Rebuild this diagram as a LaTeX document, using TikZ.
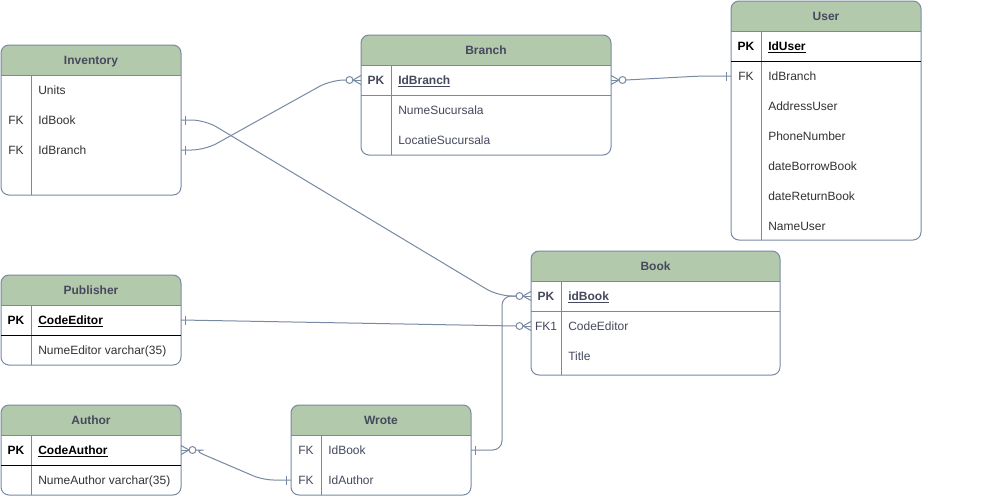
\documentclass[tikz,border=0pt]{standalone}
\usepackage{fontspec}
\setmainfont{Liberation Sans}
\usetikzlibrary{calc}
\definecolor{hdrc}{HTML}{B2C9AB}
\definecolor{bdc}{HTML}{788AA3}
\definecolor{txg}{HTML}{46495D}
\definecolor{txd}{HTML}{333333}
\tikzset{
  bd/.style={draw=bdc, line width=0.75pt},
  blk/.style={draw=black, line width=0.75pt},
  conn/.style={draw=bdc, line width=0.75pt, rounded corners=7pt},
  frame/.style={draw=bdc, line width=0.75pt, rounded corners=6pt, inner sep=0pt, outer sep=0pt},
  ttl/.style={font=\fontsize{9}{11}\selectfont\bfseries, text=txg, inner sep=0pt, text height=6.5pt, text depth=0pt},
  keyt/.style={font=\fontsize{9}{11}\selectfont, inner sep=0pt, text height=6.5pt, text depth=0pt},
  fldt/.style={font=\fontsize{9}{11}\selectfont, inner sep=0pt, anchor=west, text height=6.5pt, text depth=0pt},
}
% name, x, y, w, h, title
\newcommand{\ertable}[6]{%
  \begin{scope}
    \clip[rounded corners=6pt] (#2,#3) rectangle ++(#4,#5);
    \fill[hdrc] (#2,#3) rectangle ++(#4,30);
  \end{scope}
  \node[frame, minimum width=#4*0.75pt, minimum height=#5*0.75pt, anchor=north west] (#1) at (#2,#3) {};
  \draw[bd] (#2,#3+30) -- ++(#4,0);
  \draw[bd] (#2+30,#3+30) -- (#2+30,#3+#5);
  \node[ttl] (#1-title) at (#2+#4/2,#3+15) {#6};
}
% name, x, y, key, field, colour
\newcommand{\errow}[6]{%
  \node[keyt, text=#6] (#1-k) at (#2+15,#3) {#4};
  \node[fldt, text=#6] (#1) at (#2+37,#3) {#5};
}
% coordinate, direction
\newcommand{\markone}[2]{%
  \draw[bd] ([shift={(#2*4.5,-4.5)}]#1) -- ([shift={(#2*4.5,4.5)}]#1);
}
\newcommand{\markzm}[2]{%
  \draw[bd] ([shift={(0,-4.5)}]#1) -- ([shift={(#2*8,0)}]#1) -- ([shift={(0,4.5)}]#1);
  \draw[bd] (#1) -- ([shift={(#2*8,0)}]#1);
  \draw[bd, fill=white] ([shift={(#2*11.5,0)}]#1) circle[radius=2.6pt];
}
\begin{document}
\begin{tikzpicture}[x=0.75pt, y=-0.75pt]
\useasboundingbox (0,0) rectangle (981,496);
\fill[white] (0,0) rectangle (981,496);

% Inventory
\ertable{inv}{1}{45}{180}{150}{Inventory}
\errow{inv-units}{1}{90}{}{Units}{txd}
\errow{inv-idbook}{1}{120}{FK}{IdBook}{txd}
\errow{inv-idbranch}{1}{150}{FK}{IdBranch}{txd}

% Branch
\ertable{branch}{361}{35}{250}{120}{Branch}
\errow{branch-id}{361}{80}{\bfseries PK}{\bfseries\underline{IdBranch}}{txg}
\draw[bd] (361,95) -- ++(250,0);
\errow{branch-nume}{361}{110}{}{NumeSucursala}{txg}
\errow{branch-loc}{361}{140}{}{LocatieSucursala}{txg}

% User
\ertable{user}{731}{1}{190}{239}{User}
\errow{user-id}{731}{46}{\bfseries PK}{\bfseries\underline{IdUser}}{black}
\draw[blk] (731,61) -- ++(190,0);
\errow{user-idbranch}{731}{76}{FK}{IdBranch}{txd}
\errow{user-addr}{731}{106}{}{AddressUser}{txd}
\errow{user-phone}{731}{136}{}{PhoneNumber}{txd}
\errow{user-borrow}{731}{166}{}{dateBorrowBook}{txd}
\errow{user-return}{731}{196}{}{dateReturnBook}{txd}
\errow{user-name}{731}{226}{}{NameUser}{txd}

% Book
\ertable{book}{531}{251}{249}{124}{Book}
\errow{book-id}{531}{296}{\bfseries PK}{\bfseries\underline{idBook}}{txg}
\draw[bd] (531,311) -- ++(249,0);
\errow{book-code}{531}{326}{FK1}{CodeEditor}{txg}
\errow{book-title}{531}{356}{}{Title}{txg}

% Publisher
\ertable{pub}{1}{275}{180}{90}{Publisher}
\errow{pub-code}{1}{320}{\bfseries PK}{\bfseries\underline{CodeEditor}}{black}
\draw[blk] (1,335) -- ++(180,0);
\errow{pub-nume}{1}{350}{}{NumeEditor varchar(35)}{txd}

% Author
\ertable{auth}{1}{405}{180}{90}{Author}
\errow{auth-code}{1}{450}{\bfseries PK}{\bfseries\underline{CodeAuthor}}{black}
\draw[blk] (1,465) -- ++(180,0);
\errow{auth-nume}{1}{480}{}{NumeAuthor varchar(35)}{txd}

% Wrote
\ertable{wrote}{291}{405}{180}{90}{Wrote}
\errow{wrote-idbook}{291}{450}{FK}{IdBook}{txg}
\errow{wrote-idauthor}{291}{480}{FK}{IdAuthor}{txg}

% connector end points
\coordinate (p1) at (inv.east |- inv-idbook);
\coordinate (p2) at (book.west |- book-id);
\coordinate (p3) at (inv.east |- inv-idbranch);
\coordinate (p4) at (branch.west |- branch-id);
\coordinate (p5) at (branch.east |- branch-id);
\coordinate (p7) at (user.west |- user-idbranch);
\coordinate (p8) at (pub.east |- pub-code);
\coordinate (p9) at (book.west |- book-code);
\coordinate (p10) at (auth.east |- auth-code);
\coordinate (p11) at (wrote.west |- wrote-idauthor);
\coordinate (p6) at (wrote.east |- wrote-idbook);

% connectors
\draw[conn, rounded corners=10pt] (p1) -- ([shift={(24,0)}]p1) -- ([shift={(-33,0)}]p2) -- ([shift={(-15,0)}]p2);
\draw[conn] (p6) -- ++(31,0) |- ([shift={(-15,0)}]p2);
\draw[conn, rounded corners=10pt] (p3) -- ([shift={(24,0)}]p3) -- ([shift={(-30,0)}]p4) -- ([shift={(-15,0)}]p4);
\draw[conn] ([shift={(15,0)}]p5) -- ([shift={(-30,0)}]p7) -- (p7);
\draw[conn] (p8) -- ([shift={(-15,0)}]p9);
\draw[conn, rounded corners=8pt] ([shift={(15,0)}]p10) -- ([shift={(12,0)}]p10) -- ([shift={(-28,0)}]p11) -- (p11);

% ends
\markone{p1}{1}
\markzm{p2}{-1}
\markone{p3}{1}
\markzm{p4}{-1}
\markzm{p5}{1}
\markone{p7}{-1}
\markone{p8}{1}
\markzm{p9}{-1}
\markzm{p10}{1}
\markone{p11}{-1}
\markone{p6}{1}
\end{tikzpicture}
\end{document}
